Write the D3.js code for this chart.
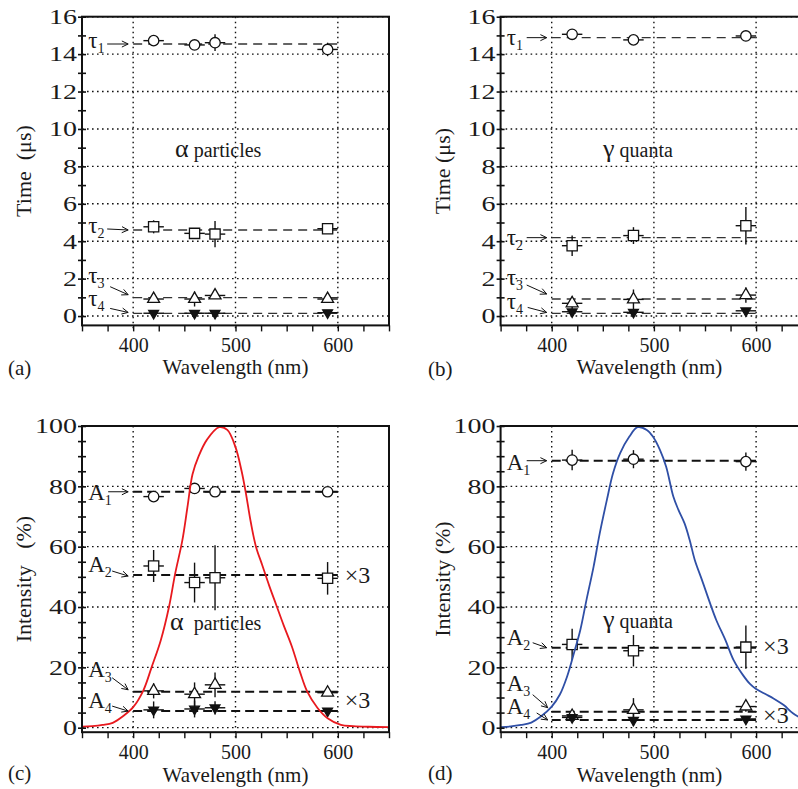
<!DOCTYPE html>
<html><head><meta charset="utf-8">
<script src="https://cdn.jsdelivr.net/npm/d3@7"></script>
<style>
body{margin:0;background:#fff}
svg{display:block}
</style>
</head><body>
<svg id="chart" width="798" height="789" style="font-family:'Liberation Serif','DejaVu Serif',serif"></svg>
<script>
// ---------------- DATA ----------------
const wavelengthTicks = [400, 500, 600];
const wlAlpha = [420, 460, 480, 590];
const wlGamma = [420, 480, 590];
const xErrNm = [10, 10, 10, 10];

// (a) alpha decay times, us
const tau1A = [14.72, 14.49, 14.61, 14.25], tau1AErr = [0.27, 0, 0.45, 0.36];
const tau2A = [4.77, 4.42, 4.38, 4.67],     tau2AErr = [0.35, 0, 0.7, 0];
const tau3A = [0.91, 0.91, 1.1, 0.91],      tau3AErr = [0, 0.4, 0, 0];
const tau4A = [0.15, 0.15, 0.15, 0.18],     tau4AErr = [0, 0, 0, 0];
const tauLevelsA = [14.54, 4.6, 0.98, 0.14];

// (b) gamma decay times, us
const tau1B = [15.06, 14.76, 14.97], tau1BErr = [0.2, 0, 0];
const tau2B = [3.76, 4.3, 4.83],     tau2BErr = [0.55, 0.45, 1.0];
const tau3B = [0.68, 0.89, 1.12],    tau3BErr = [0.35, 0.53, 0.41];
const tau4B = [0.23, 0.2, 0.28],     tau4BErr = [0, 0, 0];
const tauLevelsB = [14.88, 4.19, 0.91, 0.14];

// (c) alpha intensities, %
const amp1C = [76.6, 79.3, 78.2, 78.2], amp1CErr = [1.5, 0, 0, 1.5];
const amp2C = [53.6, 48.1, 49.7, 49.5], amp2CErr = [5.3, 6.6, 10.8, 5.4];
const amp3C = [12.2, 11.1, 14.2, 11.6], amp3CErr = [2.5, 3.9, 4.1, 0];
const amp4C = [5.9, 6.2, 6.6, 5.5],     amp4CErr = [2.8, 2.8, 2.2, 0];
const ampLevelsC = [78.2, 50.6, 11.9, 5.5];

// (d) gamma intensities, %
const amp1D = [88.7, 89.0, 88.2], amp1DErr = [3.4, 3.0, 3.0];
const amp2D = [27.6, 25.5, 26.7], amp2DErr = [5.2, 5.2, 7.2];
const amp3D = [3.9, 5.9, 7.0],    amp3DErr = [0, 3.9, 1.7];
const amp4D = [3.4, 2.5, 2.9],    amp4DErr = [1.0, 2.0, 0];
const ampLevelsD = [88.5, 26.5, 5.3, 2.55];

// emission spectra (%)
const specAlphaWl = [350,360,370,380,390,400,410,418,427,435,441,448,453,458,464,472,484,492,500,506,510,515,520,526,533,540,547,555,563,570,580,590,603,615,630,650];
const specAlphaI  = [0.3,0.5,0.9,1.6,3.8,6.8,12.4,20,29,40,51,62,73,84,90,95.4,99.6,98.7,93,85,78,68,60,54,47,40.5,34,27,18.5,12,6.6,3.1,0.9,0.5,0.3,0.2];
const specGammaWl = [350,360,370,380,389,400,408,415,422,428,434,441,447,454,460,467,476,484,493,499,506,512,519,524,530,535,540,547,555,561,570,578,587,594,600,610,617,627,636,645,650];
const specGammaI  = [0.2,0.4,0.9,1.7,3.6,7.0,11.0,16.9,25,32.4,42.3,53.4,64.4,75.5,84.3,91,96.5,99.6,98.7,96.5,92,86.5,76.6,72.2,67.7,62.2,55.6,49,41.2,35.7,29,22.4,17.5,14.5,12.8,11,9.7,7.5,4.8,3,2.3];

// ---------------- DRAWING ----------------
const FF = "'Liberation Serif','DejaVu Serif',serif";
const svg = d3.select('#chart');
const FONT_TICK = 20, FONT_TITLE = 21;

function txt(sel) { return sel.style('font-family', FF).attr('fill', '#1a1a1a'); }

function drawPanel(o) {
  const g = svg.append('g');
  const x = d3.scaleLinear().domain([350, 650]).range(o.xr);
  const y = d3.scaleLinear().domain(o.yd).range(o.yr);
  const [x0, x1] = o.xr, [yb, yt] = o.yr;

  // grid
  const grid = g.append('g').attr('stroke', '#111').attr('stroke-width', 1.4).attr('stroke-dasharray', '1.6,3.4');
  o.yMajor.forEach(v => grid.append('line').attr('x1', x0).attr('x2', x1).attr('y1', y(v)).attr('y2', y(v)));
  wavelengthTicks.forEach(v => grid.append('line').attr('x1', x(v)).attr('x2', x(v)).attr('y1', yt).attr('y2', yb + 6));

  // level lines
  o.levels.forEach(v => g.append('line')
    .attr('x1', x(400)).attr('x2', x(600)).attr('y1', y(v)).attr('y2', y(v))
    .attr('stroke', o.levelColor).attr('stroke-width', o.levelWidth).attr('stroke-dasharray', o.levelDash));

  // series
  const shapes = [
    {type: d3.symbolCircle, size: 85, fill: '#fff', rot: 0},
    {type: d3.symbolSquare, size: 105, fill: '#fff', rot: 0},
    {type: d3.symbolTriangle, size: 62, fill: '#fff', rot: 0},
    {type: d3.symbolTriangle, size: 42, fill: '#111', rot: 180}
  ];
  o.series.forEach((s, i) => {
    const pts = o.wl.map((w, j) => ({w, v: s.v[j], e: s.e[j], xe: xErrNm[j]}));
    const eb = g.append('g').attr('stroke', '#111').attr('stroke-width', 1.4);
    pts.forEach(p => {
      eb.append('line').attr('x1', x(p.w - p.xe)).attr('x2', x(p.w + p.xe)).attr('y1', y(p.v)).attr('y2', y(p.v));
      if (p.e > 0) eb.append('line').attr('x1', x(p.w)).attr('x2', x(p.w)).attr('y1', y(p.v - p.e)).attr('y2', y(p.v + p.e));
    });
    const sh = shapes[i];
    g.append('g').selectAll('path').data(pts).join('path')
      .attr('d', d3.symbol().type(sh.type).size(sh.size))
      .attr('transform', p => `translate(${x(p.w)},${y(p.v)}) rotate(${sh.rot})`)
      .attr('fill', sh.fill).attr('stroke', '#111').attr('stroke-width', 1.3);
  });

  // spectrum curve
  if (o.spec) {
    const line = d3.line().x(d => x(d[0])).y(d => y(d[1])).curve(d3.curveCatmullRom.alpha(0.5));
    g.append('path').datum(o.spec.wl.map((w, i) => [w, o.spec.v[i]]))
      .attr('d', line).attr('fill', 'none').attr('stroke', o.spec.color).attr('stroke-width', 1.8);
  }

  // frame
  g.append('rect').attr('x', x0).attr('y', yt).attr('width', x1 - x0).attr('height', yb - yt)
    .attr('fill', 'none').attr('stroke', '#111').attr('stroke-width', 2);

  // y axis ticks (straddling)
  const yMinor = d3.range(o.yd[0] < 0 ? 0 : o.yd[0], o.yd[1] + 1e-9, o.minorStep);
  const ax1 = g.append('g').attr('transform', `translate(${x0},0)`)
    .call(d3.axisLeft(y).tickValues(yMinor).tickSize(4).tickPadding(4)
      .tickFormat(d => Math.abs(d / o.majorStep - Math.round(d / o.majorStep)) < 1e-6 ? d : ''));
  ax1.select('.domain').remove();
  ax1.selectAll('line').attr('stroke', '#111').attr('stroke-width', 1.6);
  txt(ax1.selectAll('text')).attr('font-size', FONT_TICK).attr('dy', '0.34em').attr('x', null)
    .attr('transform', 'translate(-5,0) scale(1.4,1)');
  const ax2 = g.append('g').attr('transform', `translate(${x0},0)`)
    .call(d3.axisRight(y).tickValues(yMinor).tickSize(4).tickFormat(''));
  ax2.select('.domain').remove();
  ax2.selectAll('line').attr('stroke', '#111').attr('stroke-width', 1.6);

  // x axis
  const ax3 = g.append('g').attr('transform', `translate(0,${yb})`)
    .call(d3.axisBottom(x).tickValues(d3.range(350, 651, 25)).tickSize(6)
      .tickFormat(d => wavelengthTicks.includes(d) ? d : ''));
  ax3.select('.domain').remove();
  ax3.selectAll('line').attr('stroke', '#111').attr('stroke-width', 1.4);
  txt(ax3.selectAll('text')).attr('font-size', FONT_TICK).attr('y', 27).attr('dy', 0);

  // titles
  txt(g.append('text')).attr('x', (x0 + Math.min(x1, 798)) / 2 + o.xtDx).attr('y', o.xtY).attr('text-anchor', 'middle')
    .attr('font-size', FONT_TITLE).text('Wavelength (nm)');
  txt(g.append('text')).attr('transform', `translate(${o.ytX},${(yb + yt) / 2}) rotate(-90)`)
    .attr('text-anchor', 'middle').attr('font-size', 22).style('white-space', 'pre').text(o.yTitle);
  txt(g.append('text')).attr('x', o.tagX).attr('y', o.tagY).attr('font-size', FONT_TITLE).text(o.tag);

  // species annotation
  const ann = txt(g.append('text')).attr('x', o.ann.x).attr('y', o.ann.y).attr('font-size', 20).style('white-space', 'pre');
  ann.append('tspan').attr('font-size', 26).text(o.ann.sym);
  ann.append('tspan').text(o.ann.txt);

  // series labels with arrows
  o.labels.forEach((L, i) => {
    const px = x(400), py = y(o.levels[i]);
    const t = txt(g.append('text')).attr('x', px + L.t[0]).attr('y', py + L.t[1]).attr('font-size', o.labelSize);
    t.append('tspan').text(o.labelSym);
    t.append('tspan').attr('font-size', 14).attr('dy', 5).text(String(i + 1));
    const sx = px + L.a[0], sy = py + L.a[1], ex = px + L.b[0], ey = py + L.b[1];
    g.append('line').attr('x1', sx).attr('y1', sy).attr('x2', ex).attr('y2', ey).attr('stroke', '#111').attr('stroke-width', 1);
    const ang = Math.atan2(ey - sy, ex - sx);
    const hl = 7, ha = 0.45;
    g.append('path').attr('d', `M${ex - hl * Math.cos(ang - ha)},${ey - hl * Math.sin(ang - ha)} L${ex},${ey} L${ex - hl * Math.cos(ang + ha)},${ey - hl * Math.sin(ang + ha)}`)
      .attr('fill', 'none').attr('stroke', '#111').attr('stroke-width', 1);
  });

  // x3 markers
  (o.times || []).forEach(tm => {
    txt(g.append('text')).attr('x', x(600) + 7).attr('y', y(tm.v) + tm.dy).attr('font-size', 24).text('×3');
  });
}

const yA = [325.4, 16.7], yC = [732.2, 426];
const xLeft = [82, 389], xRight = [500.6, 807.2];

drawPanel({
  xr: xLeft, yr: yA, yd: [-0.5, 16], yMajor: d3.range(0, 17, 2), majorStep: 2, minorStep: 1,
  levels: tauLevelsA, levelColor: '#333', levelWidth: 1.3, levelDash: '9,6',
  wl: wlAlpha,
  series: [{v: tau1A, e: tau1AErr}, {v: tau2A, e: tau2AErr}, {v: tau3A, e: tau3AErr}, {v: tau4A, e: tau4AErr}],
  yTitle: 'Time  (μs)', ytX: 31, xtY: 374, xtDx: 0, tag: '(a)', tagX: 8, tagY: 375,
  ann: {x: 175, y: 157, sym: 'α', txt: ' particles'},
  labelSym: 'τ', labelSize: 23,
  labels: [
    {t: [-45, 4], a: [-26, 0], b: [-5, 0]},
    {t: [-45, 3], a: [-26, -1], b: [-5, 0]},
    {t: [-45, -15], a: [-23, -11], b: [-5, -3]},
    {t: [-45, -7], a: [-23, -5], b: [-5, -1]}
  ]
});

drawPanel({
  xr: xRight, yr: yA, yd: [-0.5, 16], yMajor: d3.range(0, 17, 2), majorStep: 2, minorStep: 1,
  levels: tauLevelsB, levelColor: '#333', levelWidth: 1.3, levelDash: '9,6',
  wl: wlGamma,
  series: [{v: tau1B, e: tau1BErr}, {v: tau2B, e: tau2BErr}, {v: tau3B, e: tau3BErr}, {v: tau4B, e: tau4BErr}],
  yTitle: 'Time (μs)', ytX: 450, xtY: 374, xtDx: 0, tag: '(b)', tagX: 428, tagY: 376,
  ann: {x: 603, y: 157, sym: 'γ', txt: ' quanta'},
  labelSym: 'τ', labelSize: 23,
  labels: [
    {t: [-45, 7], a: [-25, 0], b: [-5, 0]},
    {t: [-45, 7], a: [-25, 0], b: [-5, 0]},
    {t: [-45, -14], a: [-25, -14], b: [-5, -5]},
    {t: [-45, -4], a: [-24, -6], b: [-5, -1]}
  ]
});

drawPanel({
  xr: xLeft, yr: yC, yd: [-1.5, 100], yMajor: d3.range(0, 101, 20), majorStep: 20, minorStep: 5,
  levels: ampLevelsC, levelColor: '#111', levelWidth: 2, levelDash: '9,5',
  wl: wlAlpha,
  series: [{v: amp1C, e: amp1CErr}, {v: amp2C, e: amp2CErr}, {v: amp3C, e: amp3CErr}, {v: amp4C, e: amp4CErr}],
  spec: {wl: specAlphaWl, v: specAlphaI, color: '#e8191e'},
  yTitle: 'Intensity   (%)', ytX: 31, xtY: 782, xtDx: 0, tag: '(c)', tagX: 8, tagY: 780,
  ann: {x: 170, y: 630, sym: 'α', txt: '  particles'},
  labelSym: 'A', labelSize: 23,
  labels: [
    {t: [-45, 8], a: [-25, 0], b: [-5, 0]},
    {t: [-45, -3], a: [-21, -4], b: [-5, 1]},
    {t: [-45, -15], a: [-21, -14], b: [-5, -2]},
    {t: [-45, -3], a: [-21, -5], b: [-5, 0]}
  ],
  times: [{v: ampLevelsC[1], dy: 8}, {v: ampLevelsC[2], dy: 16}]
});

drawPanel({
  xr: xRight, yr: yC, yd: [-1.5, 100], yMajor: d3.range(0, 101, 20), majorStep: 20, minorStep: 5,
  levels: ampLevelsD, levelColor: '#111', levelWidth: 2, levelDash: '9,5',
  wl: wlGamma,
  series: [{v: amp1D, e: amp1DErr}, {v: amp2D, e: amp2DErr}, {v: amp3D, e: amp3DErr}, {v: amp4D, e: amp4DErr}],
  spec: {wl: specGammaWl, v: specGammaI, color: '#2f4fa6'},
  yTitle: 'Intensity (%)', ytX: 450, xtY: 782, xtDx: 0, tag: '(d)', tagX: 428, tagY: 780,
  ann: {x: 603, y: 628, sym: 'γ', txt: ' quanta'},
  labelSym: 'A', labelSize: 23,
  labels: [
    {t: [-45, 9], a: [-25, 0], b: [-5, 0]},
    {t: [-45, -3], a: [-19, -5], b: [-5, 0]},
    {t: [-45, -21], a: [-19, -17], b: [-4, -4]},
    {t: [-45, -6], a: [-15, -7], b: [-4, 0]}
  ],
  times: [{v: ampLevelsD[1], dy: 6}, {v: ampLevelsD[2], dy: 11}]
});
</script>
</body></html>
